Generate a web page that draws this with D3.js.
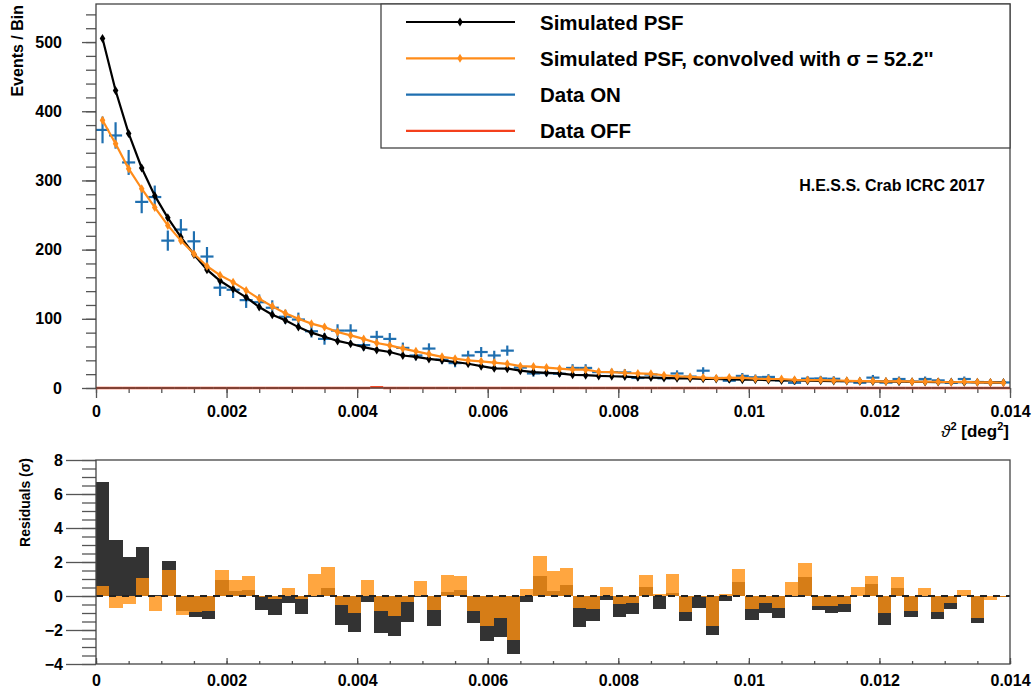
<!DOCTYPE html>
<html>
<head>
<meta charset="utf-8">
<script src="https://cdn.jsdelivr.net/npm/d3@7"></script>
<style>
body { margin: 0; background: #fff; }
svg text { font-family: "Liberation Sans", Arial, Helvetica, sans-serif; font-weight: bold; fill: #000; }
</style>
</head>
<body>
<div id="chart"></div>
<script>
const WIDTH = 1033;
const HEIGHT = 688;

const N_BINS = 70;
const BIN_WIDTH = 0.0002;
// the residual histogram in the picture is slightly wider: 70 bins over 0 .. 0.0142
const RES_BIN_WIDTH = 0.000203;

// Simulated PSF (black), events per bin
const psf = [505, 430, 368, 318, 278, 246, 218, 193, 171, 155,
    143, 131, 117, 106, 98, 88, 80, 74, 68, 64,
    59, 55, 52, 47, 45, 42, 40, 37.6, 35, 31.5,
    28.5, 28, 25, 23, 22, 21, 19, 18.5, 17.5, 17,
    16.5, 15.5, 15, 14.5, 14, 13.8, 13.2, 13, 12.5, 12,
    12, 11.5, 11, 11, 10.5, 10.4, 10, 10, 9.8, 9.5,
    9.3, 9.2, 9, 8.8, 8.6, 8.5, 8.3, 8.2, 8, 7.9];

// Simulated PSF convolved with sigma = 52.2" (orange)
const psfConv = [387, 353, 317, 288, 261, 235, 213, 194, 176, 163,
    153, 141, 129, 118, 108, 100, 93, 88, 81, 76,
    71, 65, 61.5, 57, 53, 49, 45, 42.4, 40, 38.6,
    36.7, 35, 31.5, 31, 29.5, 28, 26.6, 26.5, 23.5, 23,
    21.7, 21, 20.5, 18.4, 17, 16, 15, 14, 15, 14.5,
    13.5, 13, 13, 11.8, 11.5, 11.5, 11, 10.5, 10, 10,
    9.3, 10, 9.2, 9, 9, 8.3, 9, 8.2, 8, 7.6];

// Data ON counts (blue)
const dataOn = [373, 365, 326, 269, 276, 213, 229, 212, 190, 145,
    142, 127, 124, 116, 103, 99, 82, 71, 83, 83,
    62, 74, 71, 58, 47, 57, 41, 36, 47, 52,
    47, 54, 29.5, 21, 21.5, 20.5, 29, 29, 23, 23,
    22.5, 14.5, 19.5, 14, 21, 16.5, 25, 14.5, 10.5, 17.5,
    15.5, 16, 11, 7.5, 13.5, 13.8, 13.3, 10, 7.6, 15,
    7.8, 13, 9, 13, 11, 7.5, 13, 8.7, 8, 8];

// Data OFF counts (red)
const dataOff = [0, 0, 0, 0, 0, 0, 0, 0, 0, 0,
    0, 0, 0, 0, 0, 0, 0, 0, 0, 0,
    0, 1, 0, 0, 0, 0, 0, 0, 0, 0,
    0, 0, 0, 0, 0, 0, 0, 0, 0, 0,
    0, 0, 0, 0, 0, 0, 0, 0, 0, 0,
    0, 0, 0, 0, 0, 0, 0, 0, 0, 0,
    0, 0, 0, 0, 0, 0, 0, 0, 0, 0];

// Residuals (sigma) w.r.t. simulated PSF (dark) and convolved PSF (orange)
const resPsf = [6.7, 3.32, 2.31, 2.9, 0.05, 2.07, -0.89, -1.24, -1.36, 0.93,
    0.3, 0.34, -0.81, -1.1, -0.41, -1.05, -0.03, 0.47, -1.68, -2.09,
    -0.36, -2.17, -2.33, -1.54, -0.04, -1.78, 0.24, 0.34, -1.6, -2.63,
    -2.41, -3.44, -0.36, 1.19, 0.3, 0.65, -1.8, -1.48, -0.21, -1.24,
    -1.08, 0.53, -0.75, 0.2, -1.48, -0.72, -2.27, -0.31, 0.83, -1.42,
    -0.99, -1.3, -0.03, 1.09, -0.85, -0.99, -0.95, -0.02, 0.69, -1.68,
    0.47, -1.24, -0.03, -1.38, -0.75, 0.04, -1.58, -0.02, -0.03, 0.02];
const resConv = [0.59, -0.69, -0.49, 1.03, -0.89, 1.52, -1.1, -0.95, -0.89, 1.52,
    0.93, 1.19, -0.05, -0.2, 0.47, -0.2, 1.32, 1.7, -0.51, -1.0,
    0.93, -0.89, -1.16, -0.36, 0.89, -0.83, 1.25, 1.19, -0.89, -1.74,
    -1.32, -2.61, 0.4, 2.37, 1.46, 1.66, -0.69, -0.75, 0.53, -0.45,
    -0.39, 1.26, 0.1, 1.32, -0.95, -0.05, -1.79, 0.14, 1.56, -0.78,
    -0.41, -0.71, 0.83, 1.92, -0.59, -0.59, -0.45, 0.53, 1.17, -1.0,
    1.09, -0.89, 0.47, -0.95, -0.4, 0.34, -1.3, -0.26, -0.05, 0.02];

const X_TICKS = [0, 0.002, 0.004, 0.006, 0.008, 0.01, 0.012, 0.014];
const X_TICK_LABELS = ['0', '0.002', '0.004', '0.006', '0.008', '0.01', '0.012', '0.014'];
const Y_TICKS = [0, 100, 200, 300, 400, 500];
const RES_TICKS = [-4, -2, 0, 2, 4, 6, 8];

const LEGEND = [
    { label: 'Simulated PSF', color: '#000000', marker: true },
    { label: 'Simulated PSF, convolved with σ = 52.2\'\'', color: '#ff8c1a', marker: true },
    { label: 'Data ON', color: '#1f6fb0', marker: false },
    { label: 'Data OFF', color: '#f4401c', marker: false },
];

const COLORS = {
    psf: '#000000',
    conv: '#ff8c1a',
    on: '#1f6fb0',
    off: '#f4401c',
    resDark: '#333333',
    resOrange: '#ff9010',
    frame: '#444444',
};

const TOP = { left: 96, right: 1010, top: 4, bottom: 388 };
const BOT = { left: 96, right: 1010, top: 460, bottom: 664 };

const svg = d3.select('#chart')
    .append('svg')
    .attr('width', WIDTH)
    .attr('height', HEIGHT);

const bins = d3.range(N_BINS);
const x = d3.scaleLinear().domain([0, 0.014]).range([TOP.left, TOP.right]);
const y = d3.scaleLinear().domain([0, 555]).range([TOP.bottom, TOP.top]);
const yr = d3.scaleLinear().domain([-4, 8]).range([BOT.bottom, BOT.top]);

const center = i => x((i + 0.5) * BIN_WIDTH);
const lo = i => x(i * BIN_WIDTH);
const hi = i => x((i + 1) * BIN_WIDTH);

const diamond = 'M0,-4.5L2.8,0L0,4.5L-2.8,0Z';

svg.append('defs').append('clipPath')
    .attr('id', 'res-clip')
    .append('rect')
    .attr('x', BOT.left).attr('y', BOT.top)
    .attr('width', BOT.right - BOT.left).attr('height', BOT.bottom - BOT.top);

// ---------- top panel ----------
const mainPanel = svg.append('g');

// y axis ticks (outside, to the left)
mainPanel.append('g')
    .attr('transform', `translate(${TOP.left},0)`)
    .call(d3.axisLeft(y).tickValues(d3.range(0, 555, 20)).tickSize(10).tickFormat(''))
    .call(g => g.select('.domain').remove())
    .call(g => g.selectAll('line').attr('stroke', '#555').attr('stroke-width', 1.3));
mainPanel.append('g')
    .attr('transform', `translate(${TOP.left},0)`)
    .call(d3.axisLeft(y).tickValues(Y_TICKS).tickSize(14).tickPadding(20))
    .call(g => g.select('.domain').remove())
    .call(g => g.selectAll('line').attr('stroke', '#555').attr('stroke-width', 1.3))
    .call(g => g.selectAll('text').style('font-size', '16px'));

// x axis ticks (outside, below)
mainPanel.append('g')
    .attr('transform', `translate(0,${TOP.bottom})`)
    .call(d3.axisBottom(x).tickValues(d3.range(0, 0.01401, 0.0005)).tickSize(5).tickFormat(''))
    .call(g => g.select('.domain').remove())
    .call(g => g.selectAll('line').attr('stroke', '#555').attr('stroke-width', 1.3));
mainPanel.append('g')
    .attr('transform', `translate(0,${TOP.bottom})`)
    .call(d3.axisBottom(x).tickValues(X_TICKS).tickSize(10).tickPadding(8)
        .tickFormat((d, i) => X_TICK_LABELS[i]))
    .call(g => g.select('.domain').remove())
    .call(g => g.selectAll('line').attr('stroke', '#555').attr('stroke-width', 1.3))
    .call(g => g.selectAll('text').style('font-size', '16px'));

// Data ON crosses
const onGroup = mainPanel.append('g').attr('stroke', COLORS.on).attr('stroke-width', 2.2);
bins.forEach(i => {
    const err = Math.sqrt(dataOn[i]);
    onGroup.append('line')
        .attr('x1', lo(i)).attr('x2', hi(i))
        .attr('y1', y(dataOn[i])).attr('y2', y(dataOn[i]));
    onGroup.append('line')
        .attr('x1', center(i)).attr('x2', center(i))
        .attr('y1', y(dataOn[i] - err)).attr('y2', y(dataOn[i] + err));
});

// Model curves
function drawModel(values, color) {
    const line = d3.line().x((d, i) => center(i)).y(d => y(d));
    mainPanel.append('path')
        .datum(values)
        .attr('fill', 'none')
        .attr('stroke', color)
        .attr('stroke-width', 2.2)
        .attr('d', line);
    mainPanel.append('g')
        .selectAll('path')
        .data(values)
        .enter()
        .append('path')
        .attr('d', diamond)
        .attr('fill', color)
        .attr('transform', (d, i) => `translate(${center(i)},${y(d)})`);
}
drawModel(psf, COLORS.psf);
drawModel(psfConv, COLORS.conv);

// Data OFF
const offGroup = mainPanel.append('g').attr('stroke', COLORS.off).attr('stroke-width', 2.5);
bins.forEach(i => {
    offGroup.append('line')
        .attr('x1', lo(i)).attr('x2', hi(i))
        .attr('y1', y(dataOff[i])).attr('y2', y(dataOff[i]));
});

// frame
mainPanel.append('rect')
    .attr('x', TOP.left).attr('y', TOP.top)
    .attr('width', TOP.right - TOP.left).attr('height', TOP.bottom - TOP.top)
    .attr('fill', 'none').attr('stroke', COLORS.frame).attr('stroke-width', 1.3);

// legend
const legend = mainPanel.append('g');
legend.append('rect')
    .attr('x', 381).attr('y', TOP.top)
    .attr('width', TOP.right - 381).attr('height', 144)
    .attr('fill', '#fff').attr('stroke', COLORS.frame).attr('stroke-width', 1.3);
LEGEND.forEach((d, i) => {
    const ly = 22 + i * 36.3;
    legend.append('line')
        .attr('x1', 406).attr('x2', 515)
        .attr('y1', ly).attr('y2', ly)
        .attr('stroke', d.color).attr('stroke-width', 2.2);
    if (d.marker) {
        legend.append('path')
            .attr('d', diamond)
            .attr('fill', d.color)
            .attr('transform', `translate(460,${ly})`);
    }
    legend.append('text')
        .attr('x', 540).attr('y', ly + 7.5)
        .style('font-size', '20.5px')
        .text(d.label);
});

mainPanel.append('text')
    .attr('x', 985).attr('y', 191)
    .attr('text-anchor', 'end')
    .style('font-size', '16px')
    .text('H.E.S.S. Crab ICRC 2017');

// axis titles
mainPanel.append('text')
    .attr('transform', 'translate(23,5) rotate(-90)')
    .attr('text-anchor', 'end')
    .style('font-size', '16px')
    .text('Events / Bin');

const xt = mainPanel.append('text')
    .attr('x', 1009).attr('y', 437)
    .attr('text-anchor', 'end')
    .style('font-size', '17px');
xt.append('tspan').style('font-style', 'italic').style('font-weight', 'normal').text('ϑ');
xt.append('tspan').attr('dy', -7).style('font-size', '11px').text('2');
xt.append('tspan').attr('dy', 7).text(' [deg');
xt.append('tspan').attr('dy', -7).style('font-size', '11px').text('2');
xt.append('tspan').attr('dy', 7).text(']');

// ---------- residual panel ----------
const resPanel = svg.append('g');

resPanel.append('g')
    .attr('transform', `translate(${BOT.left},0)`)
    .call(d3.axisLeft(yr).tickValues(d3.range(-4, 8.01, 0.5)).tickSize(14).tickFormat(''))
    .call(g => g.select('.domain').remove())
    .call(g => g.selectAll('line').attr('stroke', '#555').attr('stroke-width', 1.3));
resPanel.append('g')
    .attr('transform', `translate(${BOT.left},0)`)
    .call(d3.axisLeft(yr).tickValues(RES_TICKS).tickSize(30).tickPadding(3)
        .tickFormat(d => d < 0 ? '\u2212' + Math.abs(d) : d))
    .call(g => g.select('.domain').remove())
    .call(g => g.selectAll('line').attr('stroke', '#555').attr('stroke-width', 1.3))
    .call(g => g.selectAll('text').style('font-size', '16px'));

resPanel.append('g')
    .attr('transform', `translate(0,${BOT.bottom})`)
    .call(d3.axisTop(x).tickValues(d3.range(0, 0.01401, 0.0005)).tickSize(3).tickFormat(''))
    .call(g => g.select('.domain').remove())
    .call(g => g.selectAll('line').attr('stroke', '#555').attr('stroke-width', 1.3));
resPanel.append('g')
    .attr('transform', `translate(0,${BOT.bottom})`)
    .call(d3.axisBottom(x).tickValues(X_TICKS).tickSize(0).tickPadding(11)
        .tickFormat((d, i) => X_TICK_LABELS[i]))
    .call(g => g.select('.domain').remove())
    .call(g => g.selectAll('text').style('font-size', '16px'));
resPanel.append('g')
    .attr('transform', `translate(0,${BOT.bottom})`)
    .call(d3.axisTop(x).tickValues(X_TICKS).tickSize(6).tickFormat(''))
    .call(g => g.select('.domain').remove())
    .call(g => g.selectAll('line').attr('stroke', '#555').attr('stroke-width', 1.3));

// residual bars
const barLayer = resPanel.append('g').attr('clip-path', 'url(#res-clip)');
function drawBars(values, color, opacity) {
    barLayer.append('g')
        .selectAll('rect')
        .data(values)
        .enter()
        .append('rect')
        .attr('x', (d, i) => x(i * RES_BIN_WIDTH))
        .attr('width', (d, i) => x((i + 1) * RES_BIN_WIDTH) - x(i * RES_BIN_WIDTH))
        .attr('y', d => Math.min(yr(d), yr(0)))
        .attr('height', d => Math.abs(yr(d) - yr(0)))
        .attr('fill', color)
        .attr('fill-opacity', opacity)
        .attr('shape-rendering', 'crispEdges');
}
drawBars(resPsf, COLORS.resDark, 1);
drawBars(resConv, COLORS.resOrange, 0.8);

resPanel.append('line')
    .attr('x1', BOT.left).attr('x2', BOT.right)
    .attr('y1', yr(0)).attr('y2', yr(0))
    .attr('stroke', '#222').attr('stroke-width', 2)
    .attr('stroke-dasharray', '7,6');

resPanel.append('rect')
    .attr('x', BOT.left).attr('y', BOT.top)
    .attr('width', BOT.right - BOT.left).attr('height', BOT.bottom - BOT.top)
    .attr('fill', 'none').attr('stroke', COLORS.frame).attr('stroke-width', 1.3);

resPanel.append('text')
    .attr('transform', 'translate(30,458) rotate(-90)')
    .attr('text-anchor', 'end')
    .style('font-size', '14px')
    .text('Residuals (σ)');
</script>
</body>
</html>
